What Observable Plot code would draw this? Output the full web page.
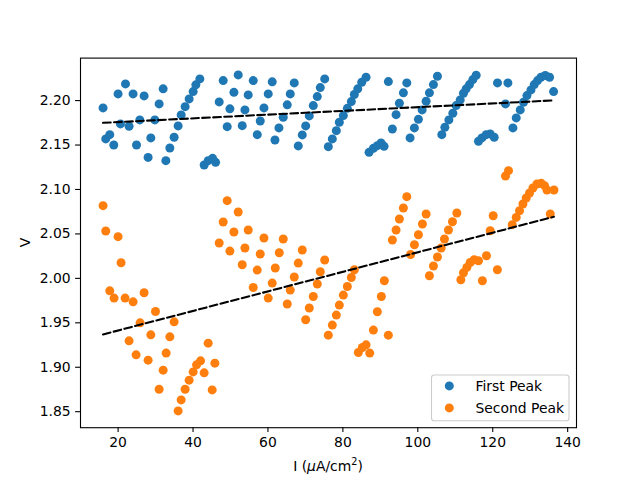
<!DOCTYPE html>
<html><head><meta charset="utf-8">
<script src="https://cdn.jsdelivr.net/npm/d3@7"></script>
<script src="https://cdn.jsdelivr.net/npm/@observablehq/plot@0.6"></script>
<style>body{margin:0;background:#fff}#chart{width:640px;height:480px}</style>
</head><body><div id="chart"></div>
<script>
const seriesNames = ["First Peak", "Second Peak"];
const seriesColors = ["#1f77b4", "#ff7f0e"];
const xTicks = [20, 40, 60, 80, 100, 120, 140];
const yTicks = [1.85, 1.90, 1.95, 2.00, 2.05, 2.10, 2.15, 2.20];
const xDomain = [9.96, 142.36];
const yDomain = [1.832, 2.2478];

const xFirst = [15.98,16.70,17.77,18.84,19.99,20.63,21.97,22.93,24.00,24.91,25.79,26.94,28.01,28.73,29.80,30.95,32.02,32.74,33.81,34.95,36.02,36.83,37.89,38.96,40.03,40.75,41.82,42.97,44.04,45.22,46.02,46.98,48.05,49.12,49.84,50.91,52.06,53.13,53.85,54.73,56.07,57.14,57.94,58.93,60.07,61.14,61.87,62.93,64.08,65.15,65.95,67.02,68.09,69.16,70.07,71.03,72.10,73.17,73.97,75.15,76.11,77.18,78.25,79.05,80.12,81.19,82.26,83.06,83.97,85.03,86.18,86.99,88.14,89.20,90.19,90.99,92.14,93.21,94.20,95.08,96.15,97.06,97.94,99.09,100.16,101.15,102.22,103.10,104.17,105.24,106.41,107.22,108.29,109.35,110.24,111.31,112.19,112.91,113.79,114.70,115.58,116.20,117.10,118.25,119.32,120.39,121.27,123.41,124.05,125.39,126.27,127.34,128.22,129.13,130.20,131.08,131.96,132.87,134.02,135.17,136.24];
const yFirst = [2.1918,2.1569,2.1617,2.1501,2.2075,2.1738,2.2188,2.1711,2.2075,2.1501,2.1783,2.2053,2.1361,2.1580,2.1783,2.1963,2.2132,2.1324,2.1467,2.1587,2.1715,2.1839,2.1932,2.2019,2.2101,2.2177,2.2244,2.1276,2.1324,2.1350,2.1305,2.1985,2.2225,2.1707,2.1907,2.2093,2.2289,2.1718,2.1895,2.2064,2.2225,2.1617,2.1771,2.1918,2.2075,2.2211,2.1557,2.1693,2.1812,2.1952,2.2075,2.2199,2.1490,2.1614,2.1715,2.1828,2.1944,2.2045,2.2146,2.2244,2.1482,2.1569,2.1662,2.1756,2.1831,2.1913,2.1989,2.2068,2.2132,2.2206,2.2262,2.1418,2.1463,2.1493,2.1524,2.1485,2.2214,2.1681,2.1842,2.1970,2.2087,2.2199,2.1580,2.1693,2.1789,2.1895,2.1992,2.2087,2.2180,2.2274,2.1617,2.1699,2.1783,2.1857,2.1944,2.2008,2.2082,2.2132,2.2180,2.2236,2.2285,2.1542,2.1580,2.1617,2.1625,2.1587,2.2199,2.1963,2.2199,2.1693,2.1805,2.1895,2.1981,2.2056,2.2120,2.2180,2.2225,2.2262,2.2282,2.2262,2.2101];

const xSecond = [15.98,16.70,17.77,18.92,19.99,20.79,21.86,22.93,24.00,24.80,25.87,26.94,28.01,28.73,29.98,30.95,32.02,32.82,33.81,34.95,36.02,36.83,37.89,38.96,40.03,40.94,42.01,42.97,44.04,45.11,45.83,46.98,48.05,49.12,49.84,50.91,52.06,53.13,53.85,54.73,56.07,57.14,57.94,58.93,60.07,61.14,61.95,63.02,64.08,65.15,65.95,67.02,68.09,69.16,70.07,71.03,72.10,73.17,73.97,75.15,76.11,77.18,78.25,79.05,80.12,81.19,82.26,83.06,84.13,85.19,86.18,87.17,88.14,89.20,90.27,91.07,92.14,93.21,94.20,95.08,96.15,97.06,98.08,99.09,100.16,101.23,102.22,103.10,104.17,105.24,106.23,107.11,108.18,109.25,110.42,111.49,112.19,113.10,113.98,115.05,116.20,117.24,118.33,119.32,120.12,121.24,123.41,124.21,125.20,126.27,127.15,128.06,128.94,129.82,130.73,131.80,132.95,133.83,134.47,136.34,135.36];
const ySecond = [2.0818,2.0533,1.9860,1.9778,2.0469,2.0176,1.9778,1.9297,1.9736,1.9140,1.9500,1.9838,1.9080,1.9365,1.9627,1.8753,1.8967,1.9159,1.9342,1.9511,1.8509,1.8633,1.8753,1.8855,1.8948,1.9027,1.9072,1.8937,1.9271,1.8745,1.9046,2.0398,2.0634,2.0874,2.0307,2.0521,2.0747,2.0153,2.0341,2.0544,1.9897,2.0093,2.0274,2.0454,1.9778,1.9947,2.0116,2.0288,2.0443,1.9711,1.9868,2.0015,2.0172,2.0319,1.9534,1.9666,1.9796,1.9936,2.0074,2.0206,1.9361,1.9474,1.9587,1.9699,1.9812,1.9909,2.0010,2.0097,1.9166,1.9222,1.9252,1.9159,1.9418,1.9624,1.9796,1.9973,1.9361,2.0431,2.0544,2.0668,2.0792,2.0919,2.0268,2.0378,2.0491,2.0611,2.0724,2.0029,2.0139,2.0240,2.0341,2.0443,2.0544,2.0637,2.0735,1.9984,2.0063,2.0123,2.0179,2.0209,2.0198,1.9973,2.0255,2.0536,2.0705,2.0097,2.1152,2.1212,2.0604,2.0686,2.0761,2.0837,2.0904,2.0961,2.1017,2.1062,2.1069,2.1043,2.0994,2.0994,2.0724];

function rows(xs, ys, name) {
  const n = Math.min(xs.length, ys.length);
  return d3.range(n).map(i => ({I: xs[i], V: ys[i], series: name}));
}
const first = rows(xFirst, yFirst, seriesNames[0]);
const second = rows(xSecond, ySecond, seriesNames[1]);

const FS = "13.9px";
const R = 4.5;
const dash = {ci: 0, stroke: "black", strokeWidth: 2.08, strokeDasharray: "7.7,3.33"};
const chart = Plot.plot({
  width: 640, height: 480,
  marginLeft: 80, marginRight: 64, marginTop: 57.6, marginBottom: 52.8,
  x: {domain: xDomain},
  y: {domain: yDomain},
  style: {fontFamily: "DejaVu Sans", fontSize: FS, background: "white", color: "black", overflow: "visible"},
  marks: [
    Plot.dot(first, {x: "I", y: "V", r: R, fill: seriesColors[0], stroke: "none"}),
    Plot.dot(second, {x: "I", y: "V", r: R, fill: seriesColors[1], stroke: "none"}),
    Plot.linearRegressionY(first, {x: "I", y: "V", ...dash}),
    Plot.linearRegressionY(second, {x: "I", y: "V", ...dash}),
    Plot.axisX({ticks: xTicks, tickSize: 4.9, tickPadding: 4.9, strokeWidth: 1.1, label: null, fontSize: FS}),
    Plot.axisY({ticks: yTicks, tickFormat: d3.format(".2f"), tickSize: 4.9, tickPadding: 4.9, strokeWidth: 1.1, label: null, fontSize: FS}),
    Plot.frame({stroke: "black", strokeWidth: 1.1})
  ]
});
document.getElementById("chart").appendChild(chart);

const svg = d3.select(chart);
// x label
const xl = svg.append("text").attr("x", 328).attr("y", 470.5).attr("text-anchor", "middle")
  .attr("font-family", "DejaVu Sans").attr("font-size", FS).attr("fill", "black");
xl.append("tspan").text("I (");
xl.append("tspan").attr("font-style", "italic").text("μ");
xl.append("tspan").text("A/cm");
xl.append("tspan").attr("font-size", "9.7px").attr("dy", "-5.5").text("2");
xl.append("tspan").attr("dy", "5.5").text(")");
// y label
svg.append("text").attr("transform", "translate(30,242.4) rotate(-90)").attr("text-anchor", "middle")
  .attr("font-family", "DejaVu Sans").attr("font-size", FS).attr("fill", "black").text("V");
// legend
const lg = svg.append("g").attr("text-anchor", "start");
lg.append("rect").attr("x", 431.5).attr("y", 375).attr("width", 137.5).attr("height", 45.7)
  .attr("rx", 2.8).attr("fill", "white").attr("fill-opacity", 0.8).attr("stroke", "#cccccc").attr("stroke-width", 1.1);
seriesNames.forEach((name, i) => {
  const cy = 385.9 + i * 22;
  lg.append("circle").attr("cx", 449.3).attr("cy", cy).attr("r", R).attr("fill", seriesColors[i]);
  lg.append("text").attr("x", 475.5).attr("y", cy).attr("dy", "0.36em").attr("text-anchor", "start")
    .attr("font-family", "DejaVu Sans").attr("font-size", FS).attr("fill", "black").text(name);
});
</script></body></html>
